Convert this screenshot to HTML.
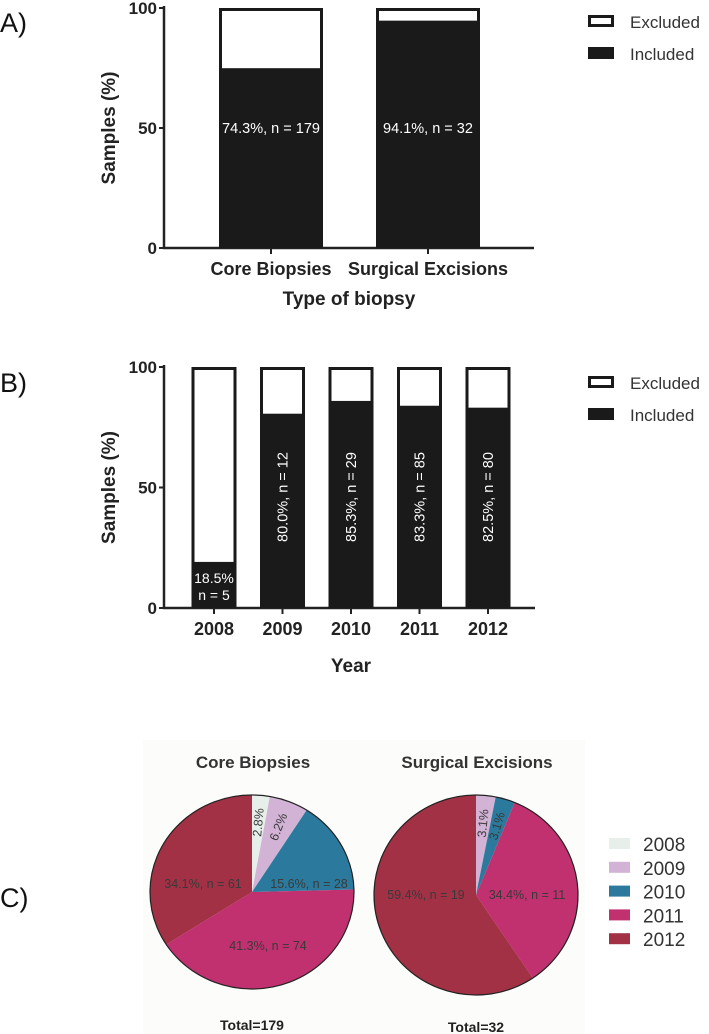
<!DOCTYPE html>
<html><head><meta charset="utf-8"><style>
html,body{margin:0;padding:0;background:#fff;}
svg{display:block;font-family:"Liberation Sans",Arial,sans-serif;}
</style></head><body>
<svg id="fig" width="709" height="1034" viewBox="0 0 709 1034" xmlns="http://www.w3.org/2000/svg">
<rect x="143" y="740" width="442" height="294" fill="#fcfcfa"/>
<text x="0" y="32" font-size="27" fill="#111">A)</text>
<text x="0" y="392" font-size="27" fill="#111">B)</text>
<text x="0" y="907" font-size="27" fill="#111">C)</text>
<g id="chartA"></g>
<g id="chartB"></g>
<g id="chartC"></g>
</svg>
<script>
// Panel A data
const aCategories = ["Core Biopsies", "Surgical Excisions"];
const aIncluded = [74.3, 94.1];
const aLabels = ["74.3%, n = 179", "94.1%, n = 32"];
// Panel B data
const bCategories = ["2008", "2009", "2010", "2011", "2012"];
const bIncluded = [18.5, 80.0, 85.3, 83.3, 82.5];
const bLabels = ["18.5%|n = 5", "80.0%, n = 12", "85.3%, n = 29", "83.3%, n = 85", "82.5%, n = 80"];
const yTicks = [0, 50, 100];
// Panel C data
const pieYears = ["2008", "2009", "2010", "2011", "2012"];
const pieColors = ["#e6efea", "#d2b2d5", "#2b7a9d", "#c1306f", "#a23145"];
const coreValues = [2.8, 6.2, 15.6, 41.3, 34.1];
const coreLabels = ["2.8%", "6.2%", "15.6%, n = 28", "41.3%, n = 74", "34.1%, n = 61"];
const surgValues = [0, 3.1, 3.1, 34.4, 59.4];
const surgLabels = ["", "3.1%", "3.1%", "34.4%, n = 11", "59.4%, n = 19"];

const NS = "http://www.w3.org/2000/svg";
function mk(parent, tag, attrs, text) {
  const e = document.createElementNS(NS, tag);
  for (const k in attrs) e.setAttribute(k, attrs[k]);
  if (text !== undefined) e.textContent = text;
  parent.appendChild(e);
  return e;
}

function barChart(g, cats, vals, labels, o) {
  const y = v => o.y0 - (o.y0 - o.y100) * v / 100;
  const x = i => o.x0 + o.step * i;
  let el = mk(g, "line", {x1: o.ax, y1: o.y100 - 2, x2: o.ax, y2: o.y0 + 1, stroke: "#222", "stroke-width": 2.5});
  
  
  el = mk(g, "line", {x1: o.ax - 1, y1: o.y0, x2: o.axEnd, y2: o.y0, stroke: "#222", "stroke-width": 2.5});
  
  
  yTicks.forEach(t => {
    const l = mk(g, "line", {x1: o.ax - 5, y1: y(t), x2: o.ax, y2: y(t), stroke: "#222", "stroke-width": 2});
    
    
    const tx = mk(g, "text", {x: o.ax - 7, y: y(t) + 6, "text-anchor": "end", "font-size": 17, "font-weight": "bold", fill: "#222"}, String(t));
    
    
  });
  cats.forEach((c, i) => {
    const cx = x(i), L = cx - o.bw / 2;
    const ex = mk(g, "rect", {x: L + 1.5, y: y(100) + 1.5, width: o.bw - 3, height: y(vals[i]) - y(100) - 1.5, fill: "#fff", stroke: "#1a1a1a", "stroke-width": 3});
    
    
    const inc = mk(g, "rect", {x: L, y: y(vals[i]), width: o.bw, height: o.y0 - y(vals[i]), fill: "#1a1a1a"});
    
    
    const tk = mk(g, "line", {x1: cx, y1: o.y0, x2: cx, y2: o.y0 + 6, stroke: "#222", "stroke-width": 2});
    
    
    const cl = mk(g, "text", {x: cx, y: o.y0 + 27, "text-anchor": "middle", "font-size": o.catSize, "font-weight": "bold", fill: "#222"}, c);
    
    
    const lab = labels[i];
    let t;
    if (o.rotate && lab.indexOf("|") < 0) {
      const ly = o.labelY;
      t = mk(g, "text", {x: cx + 5, y: ly, "text-anchor": "middle", "font-size": 14.5, fill: "#fff", transform: "rotate(-90 " + (cx + 5) + " " + ly + ")"}, lab);
    } else if (lab.indexOf("|") >= 0) {
      const parts = lab.split("|");
      t = mk(g, "text", {x: cx, y: o.y0 - 25, "text-anchor": "middle", "font-size": 14, fill: "#fff"}, parts[0]);
      const t2 = mk(g, "text", {x: cx, y: o.y0 - 8, "text-anchor": "middle", "font-size": 14, fill: "#fff"}, parts[1]);
      
      
    } else {
      t = mk(g, "text", {x: cx, y: o.labelY, "text-anchor": "middle", "font-size": 14.5, fill: "#fff"}, lab);
    }
    
    
  });
  const yt = mk(g, "text", {x: 0, y: 0, "text-anchor": "middle", "font-size": 19, "font-weight": "bold", fill: "#222", transform: "translate(" + (o.ax - 49) + "," + ((o.y0 + o.y100) / 2) + ") rotate(-90)"}, "Samples (%)");
  
  
  const xt = mk(g, "text", {x: o.xTitleX, y: o.xTitleY, "text-anchor": "middle", "font-size": 19, "font-weight": "bold", fill: "#222"}, o.xTitle);
  
  
  const lg = mk(g, "g", {});
  
  
  const b1 = mk(lg, "rect", {x: 589.5, y: o.legY + 1.5, width: 23, height: 9, fill: "#fff", stroke: "#1a1a1a", "stroke-width": 3});
  
  
  const t1 = mk(lg, "text", {x: 630, y: o.legY + 13, "font-size": 17, fill: "#333"}, "Excluded");
  
  
  const b2 = mk(lg, "rect", {x: 588, y: o.legY + 32, width: 26, height: 12, fill: "#1a1a1a"});
  
  
  const t2 = mk(lg, "text", {x: 630, y: o.legY + 45, "font-size": 17, fill: "#333"}, "Included");
  
  
}

barChart(document.getElementById("chartA"), aCategories, aIncluded, aLabels,
  {ax: 164, axEnd: 534, y0: 248, y100: 8, x0: 271, step: 157, bw: 104, catSize: 18, labelY: 133,
   xTitle: "Type of biopsy", xTitleX: 349, xTitleY: 305, legY: 15, rotate: false});
barChart(document.getElementById("chartB"), bCategories, bIncluded, bLabels,
  {ax: 164, axEnd: 535, y0: 608, y100: 367, x0: 214, step: 68.5, bw: 45, catSize: 18, labelY: 497,
   xTitle: "Year", xTitleX: 351, xTitleY: 672, legY: 376, rotate: true});

function pie(g, name, cx, cy, rx, ry, vals, labels, title, total, labPos) {
  let a = 0;
  const pt = (ang) => [cx + rx * Math.sin(ang), cy - ry * Math.cos(ang)];
  vals.forEach((v, i) => {
    if (v <= 0) return;
    const a0 = a, a1 = a + v / 100 * 2 * Math.PI;
    a = a1;
    const p0 = pt(a0), p1 = pt(a1);
    const large = (a1 - a0) > Math.PI ? 1 : 0;
    const s = mk(g, "path", {d: "M" + cx + "," + cy + " L" + p0[0] + "," + p0[1] + " A" + rx + "," + ry + " 0 " + large + " 1 " + p1[0] + "," + p1[1] + " Z", fill: pieColors[i]});
    
    
    const mid = (a0 + a1) / 2;
    const small = v < 8;
    const r = 0.72;
    const lx = cx + rx * r * Math.sin(mid), ly = cy - ry * r * Math.cos(mid);
    let t;
    if (small) {
      const rot = mid * 180 / Math.PI - 90;
      t = mk(g, "text", {x: lx, y: ly + 4, "text-anchor": "middle", "font-size": 12.5, fill: "#3a3a3a", transform: "rotate(" + rot + " " + lx + " " + ly + ")"}, labels[i]);
    } else {
      const p = labPos[i];
      t = mk(g, "text", {x: cx + p[0], y: cy + p[1], "text-anchor": "middle", "font-size": 12.5, fill: "#3a3a3a"}, labels[i]);
    }
    
    
  });
  const o = mk(g, "ellipse", {cx: cx, cy: cy, rx: rx, ry: ry, fill: "none", stroke: "#222", "stroke-width": 1.2});
  
  
  const tt = mk(g, "text", {x: cx + 1, y: 768, "text-anchor": "middle", "font-size": 17, "font-weight": "bold", fill: "#333"}, title);
  
  
  const to = mk(g, "text", {x: cx, y: total[1], "text-anchor": "middle", "font-size": 14, "font-weight": "bold", fill: "#222"}, total[0]);
  
  
}
const gc = document.getElementById("chartC");
pie(gc, "core-pie", 252, 892, 102, 97, coreValues, coreLabels, "Core Biopsies", ["Total=179", 1030],
  [null, null, [57, -4], [16, 58], [-49, -4]]);
pie(gc, "surgical-pie", 476, 895, 102, 100, surgValues, surgLabels, "Surgical Excisions", ["Total=32", 1032],
  [null, null, null, [51, 4], [-50, 4]]);
const lgc = mk(gc, "g", {});


const lbg = mk(lgc, "rect", {x: 605, y: 832, width: 82, height: 124, fill: "#fff"});


pieYears.forEach((yr, i) => {
  const yy = 838 + i * 23.8;
  const sw = mk(lgc, "rect", {x: 609, y: yy, width: 21, height: 11, fill: pieColors[i]});
  
  
  const t = mk(lgc, "text", {x: 643, y: yy + 13, "font-size": 19, fill: "#333"}, yr);
  
  
});
</script>
</body></html>
